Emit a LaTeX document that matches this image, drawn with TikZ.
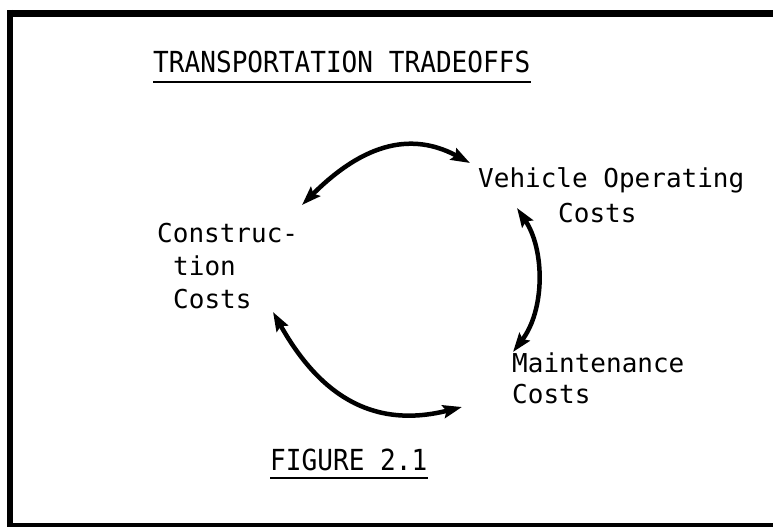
\documentclass[tikz,border=0pt]{standalone}
\usepackage{fontspec}
\usetikzlibrary{arrows.meta}
\newfontfamily\bodyfont{DejaVu Sans Mono}
\newfontfamily\titlefont[FakeStretch=0.9]{DejaVu Sans Mono}
\begin{document}
\begin{tikzpicture}[x=1pt,y=-1pt,
  lbl/.style={font=\bodyfont\fontsize{26}{33}\selectfont, inner sep=0pt, anchor=base west},
  ttl/.style={font=\titlefont\fontsize{29}{35}\selectfont, inner sep=0pt, anchor=base west},
  uline/.style={line width=2.5pt},
  link/.style={line width=4.5pt, {Stealth[length=19pt,width=13pt,inset=3pt]}-{Stealth[length=19pt,width=13pt,inset=3pt]}},
  framel/.style={line width=6.5pt}]
\useasboundingbox (0,0) rectangle (773,527);
% frame
\draw[framel] (10,10) -- (10,527);
\draw[framel] (7,13.5) -- (773,13.5);
\draw[line width=4pt] (7,525) -- (773,525);
% title
\node[ttl] (title) at (153,73) {TRANSPORTATION TRADEOFFS};
\draw[uline] ([yshift=-9pt]title.base west) -- ([yshift=-9pt]title.base east);
\node[ttl] (fig) at (270,470) {FIGURE 2.1};
\draw[uline] ([yshift=-8pt]fig.base west) -- ([yshift=-8pt]fig.base east);
% labels
\node[lbl] (con1) at (157,242) {Construc-};
\node[lbl] (con2) at (173,275) {tion};
\node[lbl] (con3) at (173,308) {Costs};
\node[lbl] (veh1) at (478,187) {Vehicle Operating};
\node[lbl] (veh2) at (558,222) {Costs};
\node[lbl] (mai1) at (512,372) {Maintenance};
\node[lbl] (mai2) at (512,403) {Costs};
% arrow ends
\coordinate (tA) at (470,163);
\coordinate (tB) at (302,205);
\coordinate (rA) at (517,208);
\coordinate (rB) at (513,352);
\coordinate (lA) at (273,312);
\coordinate (lB) at (462,407);
% arrows
\draw[link] (tA) .. controls (420,136) and (372,135) .. (tB);
\draw[link] (rA) .. controls (545,250) and (545,310) .. (rB);
\draw[link] (lA) .. controls (318,392) and (370,430) .. (lB);
\end{tikzpicture}
\end{document}
